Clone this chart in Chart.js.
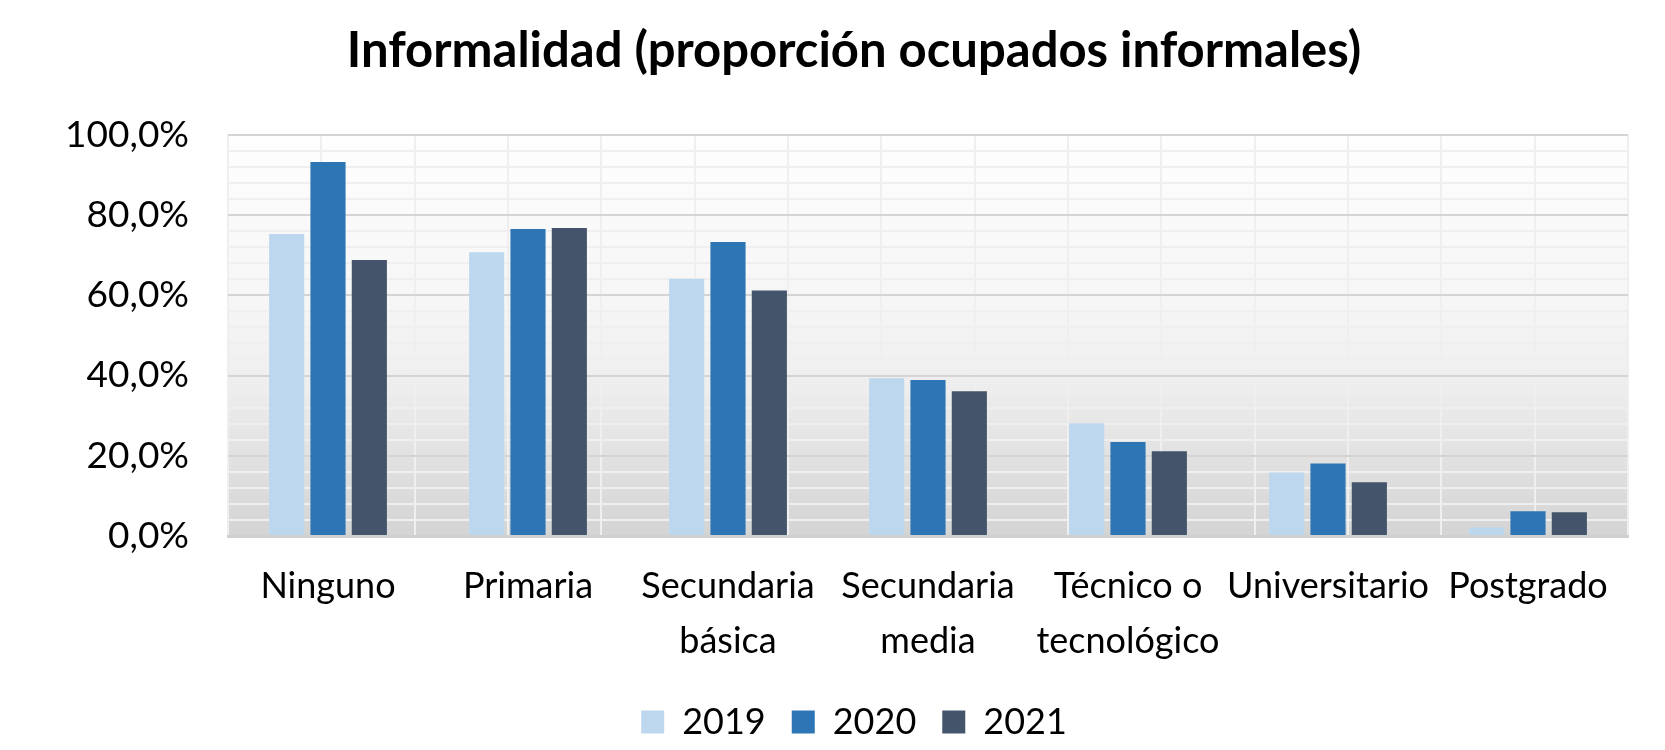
<!DOCTYPE html>
<html>
<head>
<meta charset="utf-8">
<script src="https://cdn.jsdelivr.net/npm/chart.js@4/dist/chart.umd.min.js"></script>
<style>
html,body{margin:0;padding:0;background:#fff;}
#wrap{width:1665px;height:750px;position:relative;}
</style>
</head>
<body>
<div id="wrap"><canvas id="c" width="1665" height="750"></canvas></div>
<script>
const categories = [
  'Ninguno',
  'Primaria',
  ['Secundaria', 'básica'],
  ['Secundaria', 'media'],
  ['Técnico o', 'tecnológico'],
  'Universitario',
  'Postgrado'
];
const seriesNames = ['2019', '2020', '2021'];
const values2019 = [75.3, 70.7, 64.1, 39.3, 28.1, 15.8, 2.1];
const values2020 = [93.2, 76.5, 73.3, 38.9, 23.4, 18.1, 6.2];
const values2021 = [68.8, 76.8, 61.2, 36.1, 21.1, 13.4, 5.9];
const colors = ['#BDD7EE', '#2E75B6', '#44546A'];
const yTicks = [0, 20, 40, 60, 80, 100];
const titleText = 'Informalidad (proporción ocupados informales)';

const FONT = "Lato, 'Open Sans', sans-serif";

const bgPlugin = {
  id: 'plotBg',
  beforeDraw(chart) {
    const {ctx, chartArea: a} = chart;
    const g = ctx.createLinearGradient(0, a.top, 0, a.bottom);
    g.addColorStop(0, '#fefefe');
    g.addColorStop(0.4, '#f6f6f6');
    g.addColorStop(0.6, '#efefef');
    g.addColorStop(1, '#d4d4d4');
    ctx.save();
    ctx.fillStyle = g;
    ctx.fillRect(a.left, a.top, a.right - a.left, a.bottom - a.top);
    ctx.restore();
  }
};

const allValues = [values2019, values2020, values2021];

new Chart(document.getElementById('c'), {
  type: 'bar',
  data: {
    labels: categories,
    datasets: seriesNames.map((n, i) => ({
      label: n,
      data: allValues[i],
      backgroundColor: colors[i],
      borderWidth: 0,
      categoryPercentage: 0.62,
      barPercentage: 0.85,
      xAxisID: 'x',
      yAxisID: 'y'
    }))
  },
  options: {
    responsive: false,
    animation: false,
    devicePixelRatio: 1,
    layout: { padding: { left: 50, right: 7, top: 0, bottom: 0 } },
    plugins: {
      title: {
        display: true,
        text: titleText,
        color: '#000',
        font: { family: FONT, size: 49, weight: 'bold', lineHeight: 1.2 },
        padding: { top: 22, bottom: 54 }
      },
      legend: {
        display: true,
        position: 'bottom',
        labels: {
          color: '#000',
          font: { family: FONT, size: 36 },
          boxWidth: 23,
          boxHeight: 23,
          padding: 26
        }
      },
      tooltip: { enabled: false }
    },
    scales: {
      x: {
        type: 'category',
        position: 'bottom',
        offset: true,
        afterFit(scale) { scale.height = 142; },
        grid: { display: false, drawTicks: false },
        border: { display: true, color: '#d0d0d0', width: 3 },
        ticks: {
          color: '#000',
          font: { family: FONT, size: 36, lineHeight: 1.53 },
          padding: 23,
          maxRotation: 0,
          autoSkip: false
        }
      },
      xg: {
        type: 'linear',
        position: 'bottom',
        min: -0.5,
        max: categories.length - 0.5,
        afterFit(scale) { scale.height = 0; },
        grid: { display: true, color: '#efefef', lineWidth: 2, drawTicks: false },
        border: { display: false },
        ticks: { display: false, stepSize: 0.5 }
      },
      y: {
        type: 'linear',
        position: 'left',
        min: 0,
        max: 100,
        afterFit(scale) { scale.width = 178; },
        afterBuildTicks(scale) { scale.ticks = yTicks.map(v => ({ value: v })); },
        grid: { color: '#d4d4d4', lineWidth: 2, drawTicks: false },
        border: { display: false },
        ticks: {
          color: '#000',
          font: { family: FONT, size: 37 },
          padding: 39,
          callback: v => v.toFixed(1).replace('.', ',') + '%'
        }
      },
      yg: {
        type: 'linear',
        position: 'left',
        min: 0,
        max: 100,
        afterFit(scale) { scale.width = 0; },
        grid: {
          color: c => (c.tick && c.tick.value % 20 === 0) ? 'rgba(0,0,0,0)' : '#efefef',
          lineWidth: 2,
          drawTicks: false
        },
        border: { display: false },
        ticks: { display: false, stepSize: 4 }
      },
      yr: {
        type: 'linear',
        position: 'right',
        min: 0,
        max: 100,
        afterFit(scale) { scale.width = 30; },
        grid: { display: false, drawTicks: false },
        border: { display: false },
        ticks: { display: false }
      }
    }
  },
  plugins: [bgPlugin]
});
</script>
</body>
</html>
